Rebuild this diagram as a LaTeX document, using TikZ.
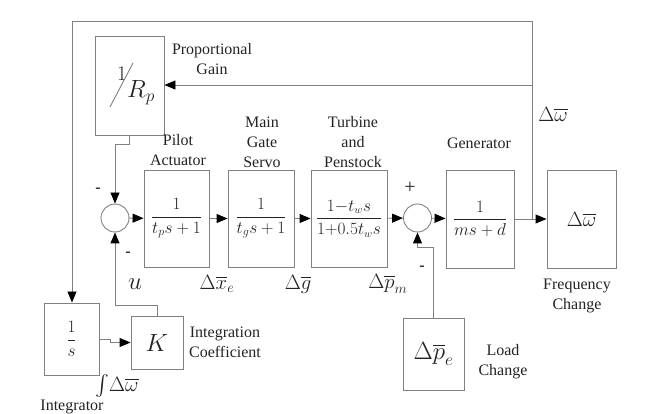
\documentclass[tikz,border=0pt]{standalone}
\usepackage{amsmath}
\usepackage{fontspec}
\setmainfont{Liberation Serif}
\usetikzlibrary{arrows.meta,calc}
\definecolor{linegray}{RGB}{128,128,128}
\definecolor{txt}{RGB}{35,35,35}
\begin{document}
\begin{tikzpicture}[x=1pt,y=-1pt,
  line/.style={draw=linegray,line width=0.9pt},
  arr/.style={line,-{Triangle[length=11pt,width=9pt,color=black]}},
  blk/.style={draw=linegray,line width=0.9pt,inner sep=0pt,text=txt},
  sumj/.style={circle,draw=linegray,line width=0.9pt,minimum size=28pt,inner sep=0pt},
  lbl/.style={text=txt,font=\fontsize{16}{20}\selectfont,align=center,inner sep=0pt},
  sym/.style={text=txt,font=\fontsize{21}{22}\selectfont,inner sep=0pt},
  fr/.style={font=\fontsize{17}{20}\selectfont}
]
\useasboundingbox (0,0) rectangle (651,414);

% blocks
\node[blk,minimum width=69pt,minimum height=99pt] (rp) at (129.5,85.5) {};
\node[sym,font=\fontsize{22}{22}\selectfont] (rpnum) at (122,74) {$1$};
\draw[line] (110,107) -- (133,63);
\node[sym,font=\fontsize{24}{24}\selectfont] (rpden) at (141,93) {$R_p$};

\node[sumj] (s1) at (115,218) {};
\node[blk,fr,minimum width=65pt,minimum height=97pt] (b1) at (176.5,218.5) {$\dfrac{1}{t_p s+1}$};
\node[blk,fr,minimum width=66pt,minimum height=97pt] (b2) at (261,218.5) {$\dfrac{1}{t_g s+1}$};
\node[blk,fr,font=\fontsize{16}{19}\selectfont,minimum width=76pt,minimum height=97pt] (b3) at (349,218.5) {$\dfrac{1{-}t_w s}{1{+}0.5t_w s}$};
\node[sumj] (s2) at (417.5,218) {};
\node[blk,fr,font=\fontsize{18}{20}\selectfont,minimum width=68pt,minimum height=98pt] (gen) at (480,219) {$\dfrac{1}{ms+d}$};
\node[blk,font=\fontsize{21}{22}\selectfont,minimum width=69pt,minimum height=98pt] (out) at (581.5,219) {$\Delta\overline{\omega}$};

\node[blk,fr,minimum width=55pt,minimum height=72pt] (int) at (71.5,339) {$\dfrac{1}{s}$};
\node[blk,font=\fontsize{32}{34}\selectfont,minimum width=52pt,minimum height=53pt] (k) at (157,342.5) {$K$};
\node[blk,font=\fontsize{23}{24}\selectfont,minimum width=61pt,minimum height=72pt] (load) at (433.5,354) {$\Delta\overline{p}_e$};

% connectors
\draw[arr] (s1) -- (b1);
\draw[arr] (b1) -- (b2);
\draw[arr] (b2) -- (b3);
\draw[arr] (b3) -- (s2);
\draw[arr] (s2) -- (gen);
\draw[arr] (gen) -- (out);

\coordinate (br) at (532,219);
\coordinate (mid) at (532,85);
\coordinate (top) at (532,21);
\coordinate (tl) at (72,21);
\draw[line] (br) -- (top) -- (tl);
\draw[arr] (tl) -- (tl |- int.north);
\draw[arr] (mid) -- (mid -| rp.east);
\draw[arr] (rp.south) -- ++(0,9) -| (s1.north);
\draw[arr] (int.east) -- ++(11,0) |- (k.west);
\draw[arr] (k.north) -- ++(0,-10) -| (s1.south);
\draw[arr] (load.north) -- ++(0,-70) -| (s2.south);

% signs
\node[lbl,font=\bfseries\fontsize{16}{20}\selectfont] (m1) at (98,190) {-};
\node[lbl,font=\bfseries\fontsize{16}{20}\selectfont] (m2) at (128,254) {-};
\node[lbl,font=\fontsize{20}{20}\selectfont] (p1) at (410,188) {+};
\node[lbl,font=\bfseries\fontsize{16}{20}\selectfont] (m3) at (422,268) {-};

% signal labels
\node[sym,font=\fontsize{23}{22}\selectfont] (u) at (135,284) {$u$};
\node[sym] (dxe) at (217,284) {$\Delta\overline{x}_e$};
\node[sym] (dg) at (298,284) {$\Delta\overline{g}$};
\node[sym] (dpm) at (388,284) {$\Delta\overline{p}_m$};
\node[sym] (dw) at (553,114) {$\Delta\overline{\omega}$};
\node[sym] (idw) at (117,386) {$\int\!\Delta\overline{\omega}$};

% text labels
\node[lbl] (tprop) at (212,59) {Proportional\\Gain};
\node[lbl] (tpilot) at (178,150) {Pilot\\Actuator};
\node[lbl] (tmain) at (262,142) {Main\\Gate\\Servo};
\node[lbl] (tturb) at (353,142) {Turbine\\and\\Penstock};
\node[lbl] (tgen) at (479,143) {Generator};
\node[lbl] (tfreq) at (577,296) {Frequency\\Change};
\node[lbl] (tload) at (503,362) {Load\\Change};
\node[lbl] (tinteg) at (225,342) {Integration\\Coefficient};
\node[lbl] (tint) at (72,407) {Integrator};
\end{tikzpicture}
\end{document}
